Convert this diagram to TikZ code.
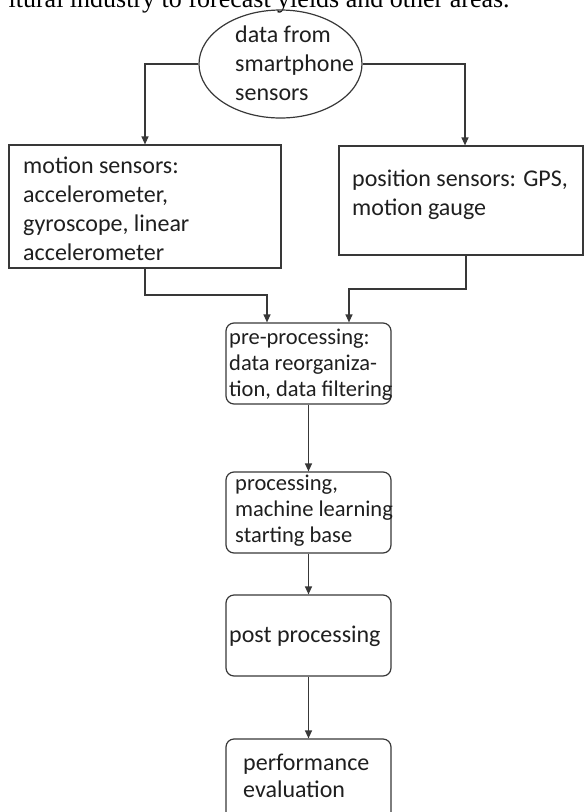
\documentclass[tikz,border=0pt]{standalone}
\usepackage{fontspec}
\setmainfont{Liberation Serif}
\newfontfamily\carlito{Carlito}
\usetikzlibrary{arrows.meta,shapes.geometric}
\begin{document}
\begin{tikzpicture}[x=1pt,y=-1pt,
  flowbox/.style={draw=black!78, line width=1.2pt, rectangle, inner sep=0pt},
  roundbox/.style={flowbox, rounded corners=8pt, minimum width=165pt, minimum height=81pt},
  % multi-line labels are placed by the baseline of their last line
  boxtext/.style={anchor=base west, inner sep=0pt, align=left, text=black!88},
  bigtext/.style={boxtext, font=\carlito\fontsize{24}{28.7}\selectfont},
  smalltext/.style={boxtext, font=\carlito\fontsize{22.5}{26}\selectfont},
  arr/.style={draw=black!78, line width=1.2pt, -{Triangle[length=8pt,width=7pt]}}]
\useasboundingbox (0,0) rectangle (584,812);

% running text of the page above the chart
\node[anchor=base west, inner sep=0pt, font=\fontsize{26}{30}\selectfont] (cap) at (8.4,7)
  {ltural industry to forecast yields and other areas.};

% shapes
\node[flowbox, ellipse, minimum width=163pt, minimum height=108pt] (src) at (280.5,64) {};
\node[flowbox, minimum width=272pt, minimum height=123pt] (mot) at (145,206.5) {};
\node[flowbox, minimum width=244pt, minimum height=109pt] (pos) at (461,200.5) {};
\node[roundbox] (pre)  at (308.5,363.5) {};
\node[roundbox] (proc) at (308.5,512.5) {};
\node[roundbox] (post) at (308.5,635.5) {};
\node[roundbox] (perf) at (308.5,779.5) {};

% labels
\node[bigtext] (srcT) at (235,100) {data from\\smartphone\\sensors};
\node[bigtext] (motT) at (23,260) {motion sensors:\\accelerometer,\\gyroscope, linear\\accelerometer};
\node[bigtext] (posT) at (352,215) {position sensors: GPS,\\motion gauge};
\node[smalltext] (preT) at (229,396) {pre-processing:\\data reorganiza-\\tion, data filtering};
\node[smalltext] (procT) at (235,542) {processing,\\machine learning\\starting base};
\node[bigtext] (postT) at (229,642) {post processing};
\node[bigtext, font=\carlito\fontsize{24}{27}\selectfont] (perfT) at (243,797) {performance\\evaluation};

% connectors
\coordinate (yL) at (0,295);
\coordinate (yR) at (0,289);
\coordinate (outR) at ([xshift=5pt]pos.south);
\coordinate (inL) at ([xshift=-41.5pt]pre.north);
\coordinate (inR) at ([xshift=40.5pt]pre.north);

\draw[arr] (src.west) -| (mot.north);
\draw[arr] (src.east) -| ([xshift=4pt]pos.north);
\draw[arr] (mot.south) -- (mot.south |- yL) -| (inL);
\draw[arr] (outR) -- (outR |- yR) -| (inR);
\draw[arr] (pre.south) -- (proc.north);
\draw[arr] (proc.south) -- (post.north);
\draw[arr] (post.south) -- (perf.north);
\end{tikzpicture}
\end{document}
